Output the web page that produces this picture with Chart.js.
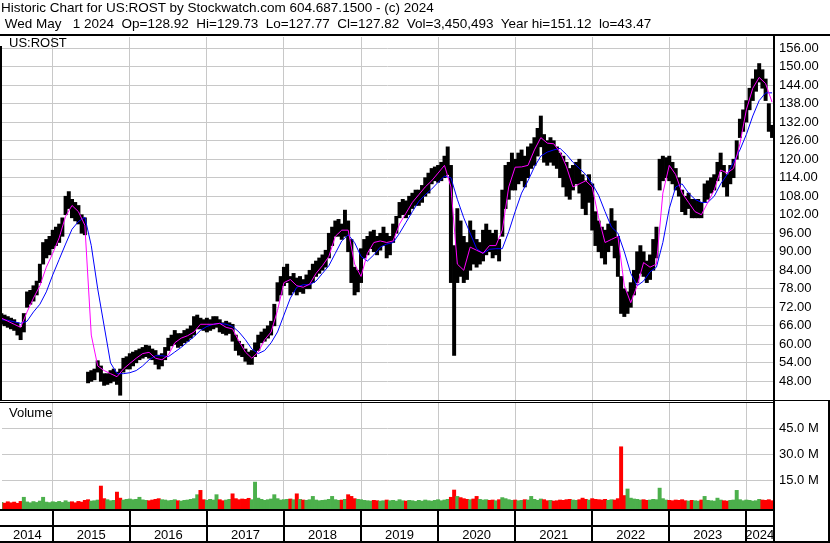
<!DOCTYPE html>
<html>
<head>
<meta charset="utf-8">
<script src="https://cdn.jsdelivr.net/npm/chart.js"></script>
<style>
  html, body { margin: 0; padding: 0; background: #fff; }
  #wrap { position: relative; width: 830px; height: 543px; overflow: hidden; font-family: "Liberation Sans", Arial, sans-serif; color: #000; }
  canvas { position: absolute; left: 0; }
  #priceCanvas { top: 0; }
  #volCanvas { top: 403px; }
  .hdr { position: absolute; left: 1px; font-size: 13.5px; line-height: 16px; white-space: pre; }
  .lbl { position: absolute; left: 9px; font-size: 13px; line-height: 15px; white-space: pre; }
</style>
</head>
<body>
<div id="wrap">
  <canvas id="priceCanvas" width="830" height="403"></canvas>
  <canvas id="volCanvas" width="830" height="140"></canvas>
  <div class="hdr" style="top:0">Historic Chart for US:ROST by Stockwatch.com 604.687.1500 - (c) 2024</div>
  <div class="hdr" style="top:16px"> Wed May   1 2024  Op=128.92  Hi=129.73  Lo=127.77  Cl=127.82  Vol=3,450,493  Year hi=151.12  lo=43.47</div>
  <div class="lbl" style="top:35px">US:ROST</div>
  <div class="lbl" style="top:405px">Volume</div>
</div>
<script>
// Time axis is counted in months from Jan 2014; price bars are half-month ranges from May 2014
const years = ['2014', '2015', '2016', '2017', '2018', '2019', '2020', '2021', '2022', '2023', '2024'];
const firstMonth = 4;

const priceTicks = [48, 54, 60, 66, 72, 78, 84, 90, 96, 102, 108, 114, 120, 126, 132, 138, 144, 150, 156];
const volumeTicks = [15, 30, 45];

// half-month low / high (US$)
const lows = [
  66.5, 66, 65.5, 65, 64.5, 63, 61.5, 64, 72, 73,
  74, 76, 80, 86, 88, 89, 91, 92, 93, 95,
  102, 104, 101, 100, 99, 96, 95.5, 47.5, 48, 48.5,
  51, 48, 46.7, 47, 47.5, 48, 47, 43.5, 51, 52,
  52, 53, 54, 55, 55.5, 56, 55.5, 55, 53.5, 52,
  53, 55, 58, 59.5, 60, 59, 59.5, 60.5, 61, 62,
  63, 65, 65, 64.5, 64, 64.5, 65, 65.5, 64, 63.5,
  63, 63.5, 61, 58, 56.5, 56, 54.5, 53.5, 53.5, 56,
  58, 60.5, 61, 62, 63, 66, 74, 76, 79, 80,
  76, 77, 76, 77, 76.5, 78, 78, 80, 82, 83,
  84, 85, 88, 92, 95, 95, 94, 95, 90, 80,
  76, 77, 80, 88, 89, 91, 90, 89, 90.5, 92,
  88, 89, 93, 96, 101, 102, 101, 102, 104, 105,
  105, 106, 108, 109, 112, 113, 112.5, 113, 114, 115,
  80, 56.4, 80, 82, 80, 81, 84, 86, 85, 86,
  87, 89, 90, 88, 89, 87, 95, 104, 107, 110,
  110, 112, 113, 111, 114, 117, 118, 121, 124, 119,
  118, 119, 118, 117, 114, 111, 108, 107, 110, 112,
  109, 104, 102, 106, 97, 92, 90, 88, 86, 90,
  92, 88, 82, 70, 69, 70, 72, 76, 80, 83,
  82, 80, 81, 84, 88, 110, 113, 114, 113, 112,
  110, 108, 103, 102, 104, 101, 101, 101, 101, 106,
  107, 109, 110, 113, 116, 111, 108, 112, 114, 120,
  127, 129, 132, 136, 139, 142, 145, 143, 139, 129,
  127
];
const highs = [
  70, 69.5, 69, 68.5, 68, 67, 65.5, 70, 77, 77.5,
  79, 80.5, 86, 93, 94, 95, 97, 98, 99, 101,
  108, 109.5, 107, 106, 105, 102, 101, 51, 51.5, 52,
  54.7, 53, 50.5, 50.5, 51.5, 52, 51, 52, 55.5, 56,
  57, 57.5, 58, 58.5, 59, 59.7, 59.5, 58.5, 58, 56.5,
  57, 59, 62, 63, 64.5, 63.5, 63.5, 64.5, 65, 66,
  69, 69.5, 68.5, 68, 68.5, 68, 69, 69, 68, 67,
  67.5, 67, 66.5, 63, 61, 60, 58.5, 57.5, 58, 60.5,
  63, 64, 65, 66, 67.5, 73, 80, 82, 85, 86,
  82, 83, 81.5, 82, 81, 82.5, 84, 86, 87, 88,
  89, 90.5, 96, 98, 100, 100.5, 99, 103.5, 100, 94,
  85, 84, 91, 94, 95, 96.5, 97, 95, 96, 98,
  96, 95, 99, 101.5, 106, 107, 106.5, 108, 109, 110,
  110, 111.5, 114, 115.5, 117, 117.5, 118, 119, 121, 124,
  118, 92, 104, 100, 95, 93, 100, 97, 94, 93,
  97, 99, 97, 96, 97, 94, 110, 118, 119, 122,
  120, 122, 123, 121, 124, 125, 127, 130, 134, 128,
  126, 127, 126, 124, 122, 121, 119, 117, 118, 119,
  120, 115, 113, 115, 112, 103, 100, 98, 97, 99,
  104, 100, 95, 82, 78, 77, 80, 84, 90, 92,
  90, 87, 89, 94, 98, 120, 121, 120.5, 121, 119,
  117, 114, 110, 108, 109, 107, 107, 107, 106, 112,
  113, 114, 115, 119, 122, 118, 115, 118, 120, 126,
  133, 136, 139, 143, 146, 149, 151, 149, 146, 138,
  131
];

// half-month volume, millions of shares
const volumes = [
  2.0, 1.6, 2.4, 1.8, 2.2, 1.5, 2.6, 5.0, 2.3, 1.8, 2.5, 2.0, 2.8, 5.0, 2.2, 1.9, 2.4, 2.1, 2.6, 2.0,
  3.0, 2.2, 2.4, 1.8, 2.6, 2.2, 3.2, 3.6, 2.8, 3.0, 3.4, 11.5, 4.2, 3.6, 3.0, 3.2, 8.0, 4.5, 3.4, 3.8,
  4.0, 3.6, 3.8, 5.0, 3.5, 3.2, 3.0, 3.4, 3.8, 4.2, 3.6, 3.4, 3.0, 3.2, 3.6, 3.0, 2.8, 3.2, 3.4, 3.8,
  4.2, 6.5, 9.0, 3.6, 3.2, 3.8, 3.4, 6.5, 3.6, 3.0, 3.4, 3.8, 7.0, 4.2, 3.6, 4.0, 3.8, 4.4, 3.6, 13.8,
  4.5, 3.8, 3.2, 3.6, 4.0, 6.5, 4.2, 3.4, 3.6, 3.8, 4.0, 3.6, 7.0, 3.8, 3.4, 3.2, 3.6, 5.5, 3.4, 3.0,
  3.2, 3.4, 3.8, 5.5, 3.6, 3.2, 3.4, 3.8, 6.5, 5.5, 4.2, 3.8, 3.6, 3.2, 3.0, 2.8, 3.2, 3.0, 2.8, 3.0,
  3.4, 3.0, 3.2, 2.8, 3.6, 3.0, 2.8, 3.2, 3.0, 2.6, 3.2, 2.8, 3.4, 3.0, 2.8, 3.2, 3.6, 3.0, 3.4, 3.8,
  5.0, 9.2, 5.5, 4.8, 4.2, 3.8, 3.6, 4.0, 5.5, 3.8, 3.4, 3.6, 3.2, 3.4, 3.0, 3.6, 4.8, 4.2, 3.6, 3.2,
  3.4, 3.0, 3.2, 3.6, 3.4, 5.5, 3.8, 3.2, 4.0, 3.6, 3.0, 3.2, 2.8, 3.0, 3.4, 3.2, 3.6, 3.8, 3.4, 3.2,
  3.6, 4.5, 3.8, 3.4, 4.2, 3.8, 3.6, 3.4, 3.8, 3.2, 3.6, 3.4, 4.2, 34.3, 6.0, 9.8, 4.5, 4.0, 3.8, 3.4,
  3.6, 3.2, 3.4, 3.8, 3.6, 10.3, 4.2, 3.4, 3.2, 3.0, 3.4, 3.2, 3.6, 3.0, 2.8, 3.2, 3.0, 2.8, 3.4, 5.5,
  3.2, 3.0, 2.8, 4.5, 3.4, 3.0, 2.8, 3.2, 3.4, 9.0, 3.6, 3.0, 3.4, 3.2, 2.8, 3.0, 3.8, 3.4, 3.2, 3.6,
  3.0
];

// month-start values of the two moving averages
const maFast = [
  68.5, 67.5, 66.5, 65.5, 70.5, 75, 79, 85, 89.5, 94.5,
  101.5, 105, 103, 98.6, 63, 53, 51.5, 50.5, 49.5, 52,
  53.8, 55.5, 57, 57.4, 55.5, 55, 56.5, 60.5, 62, 62.8,
  64, 66.5, 66.5, 66.5, 66.8, 65.5, 65, 61, 57.5, 55.5,
  57.5, 61.5, 64, 71, 80, 81, 79, 78.5, 79.5, 83,
  85.5, 88.5, 95, 97, 97, 86, 82, 89.5, 93, 93.5,
  93, 93.5, 99, 102.5, 106, 108.5, 111, 113, 115.5, 118,
  111, 86, 84, 91.5, 90.5, 89.5, 92, 92, 97, 111,
  117.4, 117.5, 118, 123, 127, 125.2, 125, 122.3, 117.5, 111,
  112, 113, 111, 101, 93, 94, 95, 79, 73.5, 79,
  86.5, 85, 86, 109, 118, 115, 109, 106, 103, 102,
  106, 110, 116.5, 115.5, 117, 125, 136, 143, 146.5, 144.5,
  138.5
];
const maSlow = [
  68, 67.8, 67.3, 66.8, 67.5, 70.5, 73, 77, 82.5, 87.5,
  92.5, 97.3, 99.8, 101.2, 92, 78, 66, 54, 50.5, 50.5,
  50.8, 51.5, 53, 55, 56.3, 56.3, 56, 57.5, 59, 60.8,
  62.5, 64.5, 65.8, 66.5, 66.8, 66.5, 65.8, 64, 61.5, 58.5,
  57, 58, 60.5, 64, 69.5, 75, 78.5, 79.3, 79.3, 80.5,
  83, 85.5, 89.5, 93.5, 95.5, 93, 88.5, 87, 89, 91.5,
  92.5, 93, 96, 99.5, 103, 106.3, 108.5, 110.3, 112.5, 114.5,
  114, 107, 101, 96, 91, 89.5, 90.8, 91, 91, 96.5,
  103, 109, 113, 117.5, 121, 122.3, 123, 123.5, 121.5, 119,
  117, 115, 112, 108.3, 103, 98, 96, 90, 83, 79,
  80.5, 83.5, 85, 93, 104, 111, 112, 109, 107, 106,
  106, 108, 112, 115, 119, 123, 128, 134, 139, 141.5,
  141.5
];

const gridGray = '#c8c8c8';
const axisFont = { family: '"Liberation Sans", Arial, sans-serif', size: 13 };

const rangeBars = lows.map((lo, i) => ({ x: firstMonth + i / 2, y: [lo, highs[i]] }));
const volBars = volumes.map((v, i) => ({ x: firstMonth + i / 2, y: v }));
const volColors = volumes.map((v, i) => {
    const mid = (lows[i] + highs[i]) / 2;
    const prev = i ? (lows[i - 1] + highs[i - 1]) / 2 : mid;
    return mid < prev ? '#ff0000' : '#4cb04c';
});
const fastLine = maFast.map((v, k) => ({ x: firstMonth + k, y: v }));
const slowLine = maSlow.map((v, k) => ({ x: firstMonth + k, y: v }));

function monthOfYear(y) {
    return (Number(y) - 2014) * 12;
}

function timeAxis(height) {
    return {
        type: 'linear',
        min: 4.1,
        max: 124.15,
        offset: false,
        grid: { color: gridGray, drawTicks: false, offset: false },
        border: { display: false },
        ticks: { display: false },
        afterBuildTicks: s => { s.ticks = years.slice(1).map(y => ({ value: monthOfYear(y) })); },
        afterFit: s => { s.height = height; }
    };
}

// right value axis: fixed width, and no extra room asked for the end labels
function fitValueAxis(s) {
    s.width = 57;
    s.paddingTop = 0;
    s.paddingBottom = 0;
}

// black frame lines of the price panel
const priceFrame = {
    id: 'priceFrame',
    afterDraw(chart) {
        const { ctx, chartArea: a } = chart;
        ctx.save();
        ctx.fillStyle = '#000';
        ctx.fillRect(0, 34, chart.width, 2);
        ctx.fillRect(0, 46, 2, a.bottom - 46);
        ctx.fillRect(a.right, 34, 2, chart.height - 34);
        ctx.fillRect(0, a.bottom, a.right, 1);
        ctx.fillRect(0, a.bottom + 2, a.right, 1);
        ctx.fillRect(a.right, a.bottom, chart.width - a.right, 1);
        ctx.fillRect(chart.width - 2, a.bottom, 2, chart.height - a.bottom);
        ctx.restore();
    }
};

// frame and year boxes under the volume panel
const volumeFrame = {
    id: 'volumeFrame',
    afterDraw(chart) {
        const { ctx, chartArea: a } = chart;
        const xs = chart.scales.x;
        ctx.save();
        ctx.fillStyle = '#000';
        ctx.fillRect(0, a.bottom - 1, a.right, 2);
        ctx.fillRect(0, a.bottom + 15, a.right, 2);
        ctx.fillRect(0, chart.height - 2, chart.width, 2);
        ctx.fillRect(a.right, 0, 2, chart.height);
        ctx.fillRect(chart.width - 2, 0, 2, chart.height);
        years.slice(1).forEach(y => {
            const px = Math.round(xs.getPixelForValue(monthOfYear(y)));
            ctx.fillRect(px - 1, a.bottom, 2, chart.height - a.bottom);
        });
        ctx.font = '13px "Liberation Sans", Arial, sans-serif';
        ctx.textAlign = 'center';
        ctx.textBaseline = 'alphabetic';
        years.forEach((y, k) => {
            const left = k === 0 ? a.left : xs.getPixelForValue(monthOfYear(y));
            const right = k === years.length - 1 ? a.right : xs.getPixelForValue(monthOfYear(y) + 12);
            ctx.fillText(y, (left + right) / 2, chart.height - 4);
        });
        ctx.restore();
    }
};

new Chart(document.getElementById('priceCanvas'), {
    type: 'bar',
    data: {
        datasets: [
            { type: 'line', data: fastLine, borderColor: '#ff00ff', borderWidth: 1, pointRadius: 0, order: 0 },
            { type: 'line', data: slowLine, borderColor: '#0000ff', borderWidth: 1, pointRadius: 0, order: 1 },
            { type: 'bar', data: rangeBars, backgroundColor: '#000', barThickness: 3.3, grouped: false, order: 2 }
        ]
    },
    options: {
        responsive: false,
        animation: false,
        devicePixelRatio: 1,
        layout: { autoPadding: false, padding: { left: 2, top: 37, right: 0, bottom: 3 } },
        plugins: { legend: { display: false }, tooltip: { enabled: false } },
        scales: {
            x: timeAxis(0),
            y: {
                position: 'right',
                min: 41.96,
                max: 159.6,
                grid: { color: gridGray, drawTicks: false },
                border: { display: false },
                ticks: { color: '#000', font: axisFont, padding: 6, callback: v => v.toFixed(2) },
                afterBuildTicks: s => { s.ticks = priceTicks.map(v => ({ value: v })); },
                afterFit: fitValueAxis
            }
        }
    },
    plugins: [priceFrame]
});

new Chart(document.getElementById('volCanvas'), {
    type: 'bar',
    data: {
        datasets: [
            { data: volBars, backgroundColor: volColors, barThickness: 3.3, base: -1.9, grouped: false }
        ]
    },
    options: {
        responsive: false,
        animation: false,
        devicePixelRatio: 1,
        layout: { autoPadding: false, padding: { left: 2, top: 0, right: 0, bottom: 0 } },
        plugins: { legend: { display: false }, tooltip: { enabled: false } },
        scales: {
            x: timeAxis(33),
            y: {
                position: 'right',
                min: -2.4,
                max: 59.7,
                grid: { color: gridGray, drawTicks: false },
                border: { display: false },
                ticks: { color: '#000', font: axisFont, padding: 6, callback: v => v.toFixed(1) + ' M' },
                afterBuildTicks: s => { s.ticks = volumeTicks.map(v => ({ value: v })); },
                afterFit: fitValueAxis
            }
        }
    },
    plugins: [volumeFrame]
});
</script>
</body>
</html>
